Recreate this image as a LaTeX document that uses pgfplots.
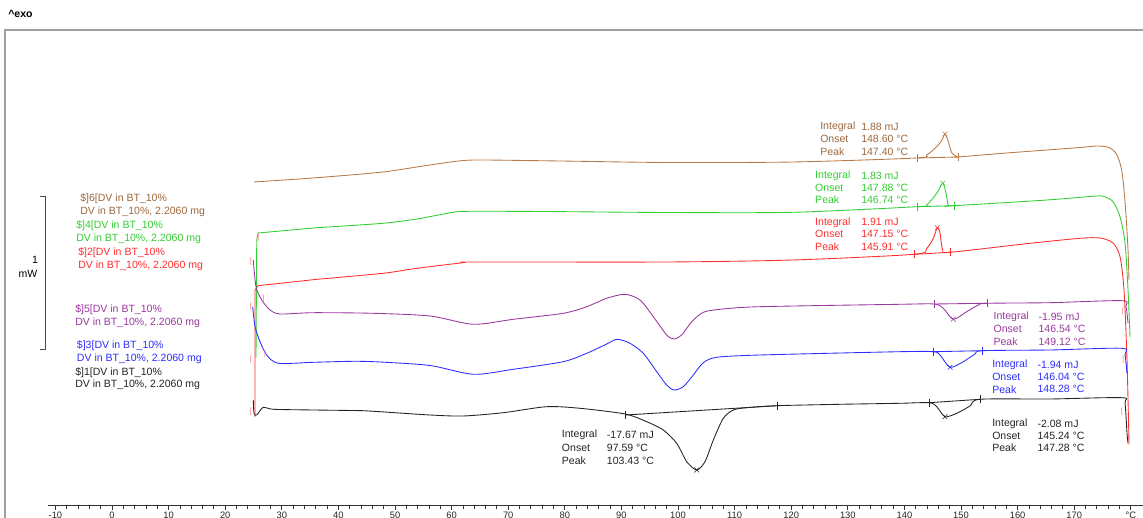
\documentclass[border=0pt]{standalone}
\usepackage{fontspec}
\setmainfont{Liberation Sans}
\usepackage{pgfplots}
\pgfplotsset{compat=1.18}
\definecolor{cbrown}{RGB}{184,122,72}
\definecolor{cgreen}{RGB}{50,205,50}
\definecolor{cred}{RGB}{255,45,45}
\definecolor{cpurple}{RGB}{155,55,160}
\definecolor{cblue}{RGB}{45,45,255}
\definecolor{cblack}{RGB}{35,35,35}
\definecolor{cframe}{RGB}{160,160,160}
\definecolor{cbrk}{RGB}{255,120,120}
\newcommand{\lab}{\fontsize{7.9}{9.5}\selectfont}
\begin{document}
\begin{tikzpicture}
\begin{axis}[
 scale only axis, width=821.25pt, height=379.5pt,
 xmin=-11.307, xmax=182.155, ymin=0, ymax=506,
 axis x line=bottom, axis y line=none,
 x axis line style={-, line width=0.75pt, draw=black!80},
 xtick={-10,0,10,20,30,40,50,60,70,80,90,100,110,120,130,140,150,160,170,180},
 xticklabels={-10,0,10,20,30,40,50,60,70,80,90,100,110,120,130,140,150,160,170,°C},
 minor x tick num=4,
 tick align=outside,
 major tick length=3pt, minor tick length=2.5pt,
 tick style={black!80, line width=0.6pt},
 xticklabel style={font=\fontsize{7}{8}\selectfont, text=black!85, yshift=2.2pt},
 clip=false,
 every axis plot/.append style={line width=0.65pt},
 curve/.style={smooth, tension=0.45},
]
% brown ]6
\addplot[cbrown, curve] coordinates {(25.09,324) (36.22,328.3) (47.88,334) (54.95,340) (60.25,344.3) (64.49,346) (79.15,345) (98.06,343.5) (120.32,344) (142.23,348) (143.94,351) (145.71,359.3) (146.64,366) (147.17,372) (147.76,364.3) (148.35,353.3) (149.24,349.5) (149.47,349) (156.89,352.5) (165.19,356) (171.02,358.5) (174.03,360) (175.44,359.5) (176.33,358) (177.21,354) (177.92,346) (178.45,334) (178.80,316) (179.15,291) (179.51,256) (179.68,226)};
% green ]4
\addplot[cgreen] coordinates {(25.44,148) (25.57,266) (25.80,273) (36.22,278.3)};
\addplot[cgreen, curve] coordinates {(36.22,278.3) (47.88,282.7) (53.89,287) (60.25,293.7) (63.25,294.7) (76.15,294.5) (98.06,293.5) (120.32,293.7) (142.23,299.3) (143.94,301) (145.71,312.7) (146.77,322.7) (147.35,313) (147.76,301) (148.76,300.3) (165.19,306) (174.03,310) (175.44,309) (176.86,304.3) (178.09,289.3) (178.98,263) (179.51,216) (179.86,169)};
% red ]2
\addplot[cred] coordinates {(25.27,89) (25.27,216) (25.80,220.3) (36.22,226.7)};
\addplot[cred, curve] coordinates {(36.22,226.7) (47.88,232.7) (53.89,237.7) (62.01,243.3) (63.78,244) (98.06,244) (120.32,246) (141.70,251.7) (143.94,257.7) (145.11,267.7) (145.81,278.3) (146.29,273) (146.77,256) (148.06,253.7) (162.19,262.7) (171.02,267.7) (174.56,268) (176.86,263) (178.09,249.3) (178.80,216) (179.33,146) (179.68,63)};
% purple ]5
\addplot[cpurple, curve] coordinates {(24.96,246) (25.44,219.3) (26.45,206) (27.92,196) (29.68,192) (35.51,193.3) (46.11,192.7) (56.18,190) (63.83,181.7) (70.90,186.7) (79.73,192.7) (83.87,199.3) (87.40,207.7) (90.64,211.7) (93.29,206) (95.64,189.3) (98.00,171) (99.29,167) (100.65,171) (102.42,184.3) (104.47,193.7) (107.42,196.7) (114.49,199.3) (139.22,201.7) (145.28,202) (146.87,197.7) (148.64,186.7) (151.01,194.3) (153.06,201) (154.65,202.7) (165.72,203.3) (178.39,205.3) (179.15,199.3) (179.51,182.7)};
% blue ]3
\addplot[cblue, curve] coordinates {(24.86,199.3) (25.27,179.3) (26.15,164.3) (27.33,151) (29.38,142.7) (35.57,143.7) (42.63,144.7) (47.35,144) (56.18,140.5) (63.83,131.7) (70.90,136.7) (79.73,144.3) (83.87,152.7) (87.40,162) (89.22,166.7) (91.52,162.7) (93.87,152.7) (96.24,134.3) (98.00,121) (99.29,116) (100.94,119.3) (102.70,131) (104.47,143.3) (106.84,148.7) (114.49,151) (139.22,154.3) (145.11,154.3) (146.29,151) (148.06,138.7) (150.41,144.3) (152.47,152) (153.83,155.3) (165.72,156) (178.39,157.7) (178.98,151) (179.33,132.7)};
% black ]1
\addplot[cblack, curve] coordinates {(24.96,106) (25.09,92.7) (25.57,91) (26.73,98.7) (28.50,96.7) (35.57,96) (44.40,95.3) (47.35,94.3) (56.18,91) (62.07,90) (69.13,93.3) (76.80,99.3) (82.69,97.7) (90.64,92) (94.47,84.3) (97.40,76) (99.77,62.7) (101.54,44.3) (103.30,36) (104.77,44.3) (106.24,66) (108.00,87.7) (109.77,96) (112.14,98.3) (117.54,100.3) (128.62,101.7) (139.22,102.7) (144.40,103.3) (145.71,99.3) (147.17,89.3) (149.24,92.7) (151.59,100) (153.36,106.7) (165.72,107) (178.39,108.3) (178.98,102.7) (179.33,72.7) (179.51,62.7)};
% integration baselines
\addplot[cbrown] coordinates {(142.23,348) (149.47,349)};
\addplot[cgreen] coordinates {(142.23,299.3) (148.76,300.3)};
\addplot[cred] coordinates {(141.70,251.7) (148.06,253.7)};
\addplot[cpurple] coordinates {(145.28,202) (154.65,202.7)};
\addplot[cblue] coordinates {(145.11,154.3) (153.83,155.3)};
\addplot[cblack] coordinates {(144.40,103.3) (153.36,106.7)};
\addplot[cblack] coordinates {(90.76,91) (117.54,100.3)};
% limit brackets
\addplot[cbrown, only marks, mark=|, mark size=3pt] coordinates {(142.23,348) (149.47,349)};
\addplot[cgreen, only marks, mark=|, mark size=3pt] coordinates {(142.23,299.3) (148.76,300.3)};
\addplot[cred, only marks, mark=|, mark size=3pt] coordinates {(141.70,251.7) (148.06,253.7)};
\addplot[cpurple, only marks, mark=|, mark size=3pt] coordinates {(145.28,202) (154.65,202.7)};
\addplot[cblue, only marks, mark=|, mark size=3pt] coordinates {(145.11,154.3) (153.83,155.3)};
\addplot[cblack, only marks, mark=|, mark size=3pt] coordinates {(144.40,103.3) (153.36,106.7) (90.76,91) (117.54,100.3)};
% peak crosses
\addplot[cbrown, only marks, mark=x, mark size=2.5pt, line width=0.4pt] coordinates {(147.17,372)};
\addplot[cgreen, only marks, mark=x, mark size=2.5pt, line width=0.4pt] coordinates {(146.77,322.7)};
\addplot[cred, only marks, mark=x, mark size=2.5pt, line width=0.4pt] coordinates {(145.81,278.3)};
\addplot[cpurple, only marks, mark=x, mark size=2.5pt, line width=0.4pt] coordinates {(148.64,186.7)};
\addplot[cblue, only marks, mark=x, mark size=2.5pt, line width=0.4pt] coordinates {(148.06,138.7)};
\addplot[cblack, only marks, mark=x, mark size=2.5pt, line width=0.4pt] coordinates {(103.30,36) (147.17,89.3)};
% frame, title, scale bar
\draw[cframe, line width=1.1pt] (axis cs:-18.90,-40) -- (axis cs:-18.90,476) -- (axis cs:190,476);
\node[anchor=west, inner sep=0, font=\lab\bfseries] at (axis cs:-18.37,492) {\^{}exo};
\draw[black!70, line width=0.6pt] (axis cs:-12.72,310) -- (axis cs:-11.84,310) -- (axis cs:-11.84,157) -- (axis cs:-12.72,157);
\node[inner sep=0, font=\lab] at (axis cs:-13.6,246) {1};
\node[inner sep=0, font=\lab] at (axis cs:-14.84,232) {mW};
% legend texts
\node[anchor=west, inner sep=0, font=\lab, text=cbrown!85!black] at (axis cs:-5.65,307.7) {\$]6[DV in BT\_10\%};
\node[anchor=west, inner sep=0, font=\lab, text=cbrown!85!black] at (axis cs:-5.65,294.3) {DV in BT\_10\%, 2.2060 mg};
\node[anchor=west, inner sep=0, font=\lab, text=cgreen] at (axis cs:-6.36,280.3) {\$]4[DV in BT\_10\%};
\node[anchor=west, inner sep=0, font=\lab, text=cgreen] at (axis cs:-6.36,267.7) {DV in BT\_10\%, 2.2060 mg};
\node[anchor=west, inner sep=0, font=\lab, text=cred] at (axis cs:-6.01,253.3) {\$]2[DV in BT\_10\%};
\node[anchor=west, inner sep=0, font=\lab, text=cred] at (axis cs:-6.01,240) {DV in BT\_10\%, 2.2060 mg};
\node[anchor=west, inner sep=0, font=\lab, text=cpurple] at (axis cs:-6.54,196.7) {\$]5[DV in BT\_10\%};
\node[anchor=west, inner sep=0, font=\lab, text=cpurple] at (axis cs:-6.54,183.7) {DV in BT\_10\%, 2.2060 mg};
\node[anchor=west, inner sep=0, font=\lab, text=cblue] at (axis cs:-6.24,160.3) {\$]3[DV in BT\_10\%};
\node[anchor=west, inner sep=0, font=\lab, text=cblue] at (axis cs:-6.24,147.7) {DV in BT\_10\%, 2.2060 mg};
\node[anchor=west, inner sep=0, font=\lab, text=cblack] at (axis cs:-6.54,133.3) {\$]1[DV in BT\_10\%};
\node[anchor=west, inner sep=0, font=\lab, text=cblack] at (axis cs:-6.54,121) {DV in BT\_10\%, 2.2060 mg};
% peak annotations
\begin{scope}[every node/.style={anchor=west, inner sep=0, font=\lab}]
\node[text=cbrown!85!black] at (axis cs:125.09,379.3) {Integral};
\node[text=cbrown!85!black] at (axis cs:125.09,366.7) {Onset};
\node[text=cbrown!85!black] at (axis cs:125.09,354.3) {Peak};
\node[text=cbrown!85!black] at (axis cs:132.33,379.3) {1.88 mJ};
\node[text=cbrown!85!black] at (axis cs:132.33,366.7) {148.60 °C};
\node[text=cbrown!85!black] at (axis cs:132.33,354.3) {147.40 °C};
\node[text=cgreen] at (axis cs:124.20,330.3) {Integral};
\node[text=cgreen] at (axis cs:124.20,317.7) {Onset};
\node[text=cgreen] at (axis cs:124.20,306) {Peak};
\node[text=cgreen] at (axis cs:132.33,330.3) {1.83 mJ};
\node[text=cgreen] at (axis cs:132.33,317.7) {147.88 °C};
\node[text=cgreen] at (axis cs:132.33,306) {146.74 °C};
\node[text=cred] at (axis cs:124.20,283.7) {Integral};
\node[text=cred] at (axis cs:124.20,271.7) {Onset};
\node[text=cred] at (axis cs:124.20,259.3) {Peak};
\node[text=cred] at (axis cs:132.33,283.7) {1.91 mJ};
\node[text=cred] at (axis cs:132.33,271.7) {147.15 °C};
\node[text=cred] at (axis cs:132.33,259.3) {145.91 °C};
\node[text=cpurple] at (axis cs:155.71,189.3) {Integral};
\node[text=cpurple] at (axis cs:155.71,177) {Onset};
\node[text=cpurple] at (axis cs:155.71,164.3) {Peak};
\node[text=cpurple] at (axis cs:163.66,189.3) {-1.95 mJ};
\node[text=cpurple] at (axis cs:163.66,177) {146.54 °C};
\node[text=cpurple] at (axis cs:163.66,164.3) {149.12 °C};
\node[text=cblue] at (axis cs:155.48,141) {Integral};
\node[text=cblue] at (axis cs:155.48,129.3) {Onset};
\node[text=cblue] at (axis cs:155.48,116.7) {Peak};
\node[text=cblue] at (axis cs:163.48,141) {-1.94 mJ};
\node[text=cblue] at (axis cs:163.48,129.3) {146.04 °C};
\node[text=cblue] at (axis cs:163.48,116.7) {148.28 °C};
\node[text=cblack] at (axis cs:155.48,82) {Integral};
\node[text=cblack] at (axis cs:155.48,70.3) {Onset};
\node[text=cblack] at (axis cs:155.48,58.3) {Peak};
\node[text=cblack] at (axis cs:163.48,82) {-2.08 mJ};
\node[text=cblack] at (axis cs:163.48,70.3) {145.24 °C};
\node[text=cblack] at (axis cs:163.48,58.3) {147.28 °C};
\node[text=cblack] at (axis cs:79.45,71) {Integral};
\node[text=cblack] at (axis cs:79.45,57.7) {Onset};
\node[text=cblack] at (axis cs:79.45,45.3) {Peak};
\node[text=cblack] at (axis cs:87.40,71) {-17.67 mJ};
\node[text=cblack] at (axis cs:87.40,57.7) {97.59 °C};
\node[text=cblack] at (axis cs:87.40,45.3) {103.43 °C};
\end{scope}
% small range brackets
\begin{scope}[every node/.style={inner sep=0, font=\fontsize{5.5}{6}\selectfont, text=cbrk}]
\node at (axis cs:24.51,244.3) {[};
\node at (axis cs:24.51,199.3) {[};
\node at (axis cs:24.51,146.7) {[};
\node at (axis cs:24.51,94.3) {[};
\node at (axis cs:25.85,268.3) {]};
\node at (axis cs:26.73,207.7) {]};
\node at (axis cs:27.03,152.7) {]};
\node at (axis cs:178.57,194.3) {[};
\node at (axis cs:178.68,146) {[};
\node at (axis cs:178.39,94.3) {[};
\node at (axis cs:179.68,64.3) {[};
\end{scope}
\coordinate (bbBL) at (axis cs:-19.79,-12);
\coordinate (bbTR) at (axis cs:182.155,506);
\end{axis}
\pgfresetboundingbox
\useasboundingbox (bbBL) rectangle (bbTR);
\end{tikzpicture}
\end{document}
